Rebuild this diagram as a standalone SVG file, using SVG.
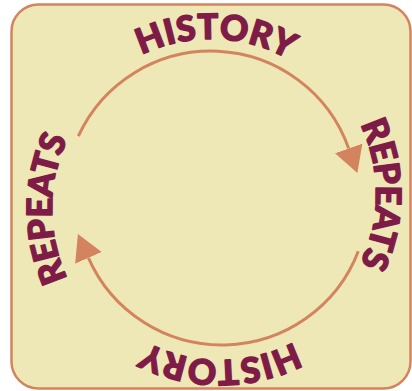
<svg xmlns="http://www.w3.org/2000/svg" width="412" height="391" viewBox="0 0 412 391">
  <style>
    .frame { fill: #eee7b6; stroke: #d3845f; stroke-width: 2.5; }
    .arc { fill: none; stroke: #d3845f; stroke-width: 3; }
    .label { font-family: Lato, "Liberation Sans", sans-serif; font-weight: 900; font-size: 35px; fill: #7e1c47; stroke: #7e1c47; stroke-width: 1.4; stroke-linejoin: round; letter-spacing: 0.5px; }
    .tight { letter-spacing: -0.5px; }
  </style>
  <defs>
    <marker id="head" markerUnits="userSpaceOnUse" markerWidth="28" markerHeight="30" refX="0" refY="14.5" orient="auto">
      <path d="M0,0 L26,14.5 L0,29 Z" fill="#d3845f"/>
    </marker>
    <path id="pTop" d="M53,197 A158,158 0 0 1 369,197"/>
    <path id="pRight" d="M216,34 A160,160 0 0 1 216,354"/>
    <path id="pBottom" d="M381,199 A161,161 0 0 1 59,199"/>
    <path id="pLeft" d="M216,373 A164,164 0 0 1 216,45"/>
  </defs>
  <rect class="frame" x="11.5" y="4.5" width="399" height="384" rx="27"/>
  <g id="connectors">
    <path class="arc" d="M78.3,136.2 A146,146 0 0 1 348.7,148.5" marker-end="url(#head)"/>
    <path class="arc" d="M358.3,251.3 A146,146 0 0 1 88.4,257.9" marker-end="url(#head)"/>
  </g>
  <g id="history-top">
    <text class="label"><textPath href="#pTop" startOffset="51%" text-anchor="middle">HISTORY</textPath></text>
  </g>
  <g id="repeats-right">
    <text class="label tight"><textPath href="#pRight" startOffset="50%" text-anchor="middle">REPEATS</textPath></text>
  </g>
  <g id="history-bottom">
    <text class="label"><textPath href="#pBottom" startOffset="50%" text-anchor="middle">HISTORY</textPath></text>
  </g>
  <g id="repeats-left">
    <text class="label tight"><textPath href="#pLeft" startOffset="50%" text-anchor="middle">REPEATS</textPath></text>
  </g>
</svg>
